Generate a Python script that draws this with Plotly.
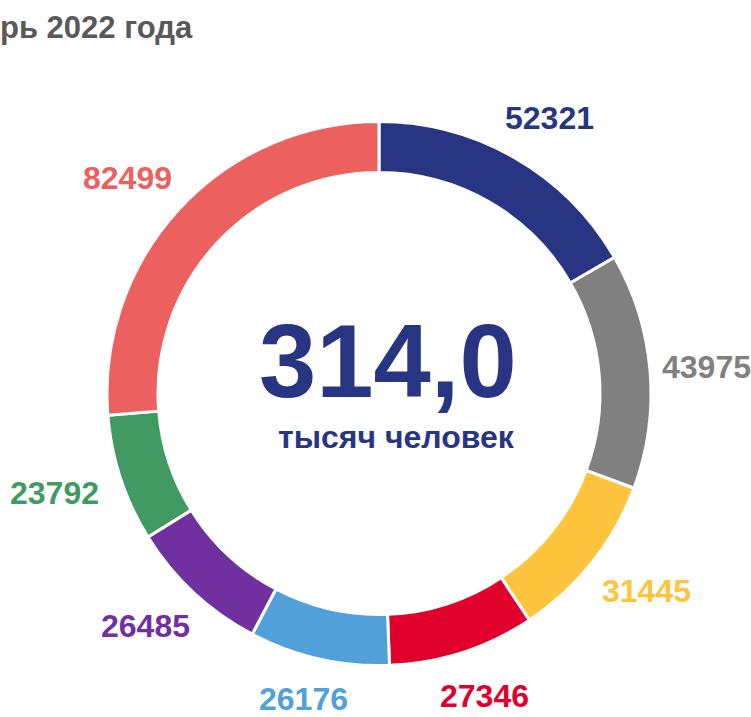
import math
import plotly.graph_objects as go

values = [52321, 43975, 31445, 27346, 26176, 26485, 23792, 82499]
labels = ["52321", "43975", "31445", "27346", "26176", "26485", "23792", "82499"]
colors = ["#283583", "#808080", "#FFC43D", "#E1002B", "#52A0D9", "#7130A0", "#409A62", "#EC6060"]
title_text = "рь 2022 года"
total_text = "314,0"
unit_text = "тысяч человек"

W, H = 751, 717
cx, cy, R = 379, 393.5, 272
FONT = "Liberation Sans, Arial, sans-serif"
LABEL_SIZE = 32

fig = go.Figure(go.Pie(
    values=values,
    labels=labels,
    sort=False,
    direction="clockwise",
    rotation=0,
    hole=0.8125,
    marker=dict(colors=colors, line=dict(color="white", width=3)),
    textinfo="none",
    domain=dict(x=[(cx - R) / W, (cx + R) / W], y=[(H - cy - R) / H, (H - cy + R) / H]),
    showlegend=False,
    hoverinfo="skip",
))

# value labels placed around the ring at each slice's mid-angle, kept inside the page
total = sum(values)
cum = 0
rx, ry = 342, 318
for v, lab, col in zip(values, labels, colors):
    mid = (cum + v / 2) / total * 2 * math.pi
    cum += v
    hw = len(lab) * 0.556 * LABEL_SIZE / 2
    hh = LABEL_SIZE * 0.56
    px = min(max(cx + rx * math.sin(mid), hw), W - hw)
    py = min(max(cy - ry * math.cos(mid), hh), H - hh)
    fig.add_annotation(text="<b>" + lab + "</b>", x=px / W, y=(H - py) / H, xref="paper", yref="paper",
                       xanchor="center", yanchor="middle", showarrow=False,
                       font=dict(family=FONT, size=LABEL_SIZE, color=col))

fig.add_annotation(text="<b>" + title_text + "</b>", x=-0.003, y=1.0, xref="paper", yref="paper",
                   xanchor="left", yanchor="top", yshift=-8, showarrow=False,
                   font=dict(family=FONT, size=31, color="#595959"))
fig.add_annotation(text="<b>" + total_text + "</b>", x=387.5 / W, y=(H - 361) / H, xref="paper", yref="paper",
                   xanchor="center", yanchor="middle", showarrow=False,
                   font=dict(family=FONT, size=103, color="#283583"))
fig.add_annotation(text="<b>" + unit_text + "</b>", x=396 / W, y=(H - 437) / H, xref="paper", yref="paper",
                   xanchor="center", yanchor="middle", showarrow=False,
                   font=dict(family=FONT, size=32, color="#283583"))

fig.update_layout(width=W, height=H, margin=dict(l=0, r=0, t=0, b=0),
                  paper_bgcolor="white", plot_bgcolor="white")
fig.write_html("out.html", config={"displayModeBar": False},
               post_script="document.body.style.margin='0';")
